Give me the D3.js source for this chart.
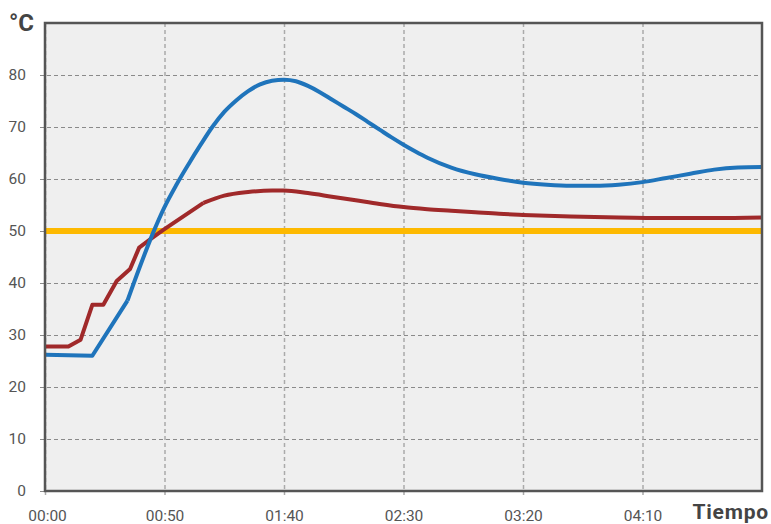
<!DOCTYPE html>
<html>
<head>
<meta charset="utf-8">
<script src="https://cdn.jsdelivr.net/npm/d3@7"></script>
<style>
  body { margin: 0; background: #fff; }
  svg { display: block; font-family: Roboto, "Noto Sans", sans-serif; }
</style>
</head>
<body>
<div id="chart"></div>
<script>
// time in minutes, temperature in °C
const blueTime = [0, 19.8, 34.5, 40, 45, 50, 55, 60, 65, 70, 75, 80, 85, 90, 95, 100, 105, 110, 115, 120, 125, 130, 135, 140, 145, 150, 155, 160, 170, 180, 190, 200, 210, 220, 230, 240, 250, 260, 270, 280, 290, 300]
const blueTemp = [26.2, 26.0, 36.6, 43.5, 49.4, 54.6, 58.9, 62.8, 66.5, 70.0, 72.9, 75.1, 76.9, 78.2, 78.9, 79.1, 78.8, 77.9, 76.7, 75.3, 73.9, 72.5, 71.0, 69.5, 68.0, 66.6, 65.3, 64.1, 62.2, 60.9, 60.0, 59.3, 58.9, 58.7, 58.7, 58.9, 59.4, 60.2, 61.0, 61.8, 62.2, 62.3]
const blueSmoothFrom = 34.5

const redTime = [0, 9.8, 14.9, 19.8, 24.4, 30, 35.6, 39.4, 44, 49.5, 66.3, 75, 85, 95, 100, 110, 120, 130, 140, 150, 160, 170, 180, 190, 200, 220, 240, 260, 280, 300]
const redTemp = [27.8, 27.8, 29.1, 35.8, 35.8, 40.4, 42.7, 46.8, 48.4, 50.2, 55.4, 56.8, 57.5, 57.8, 57.8, 57.3, 56.6, 55.9, 55.2, 54.6, 54.2, 53.9, 53.6, 53.3, 53.1, 52.8, 52.6, 52.5, 52.5, 52.6]
const redSmoothFrom = 66.3

const limitTemp = 50
const xTicks = [0, 50, 100, 150, 200, 250]
const xTickLabels = ["00:00", "00:50", "01:40", "02:30", "03:20", "04:10"]
const yTicks = [0, 10, 20, 30, 40, 50, 60, 70, 80]

const width = 771, height = 524
const margin = {top: 23, right: 9, bottom: 33, left: 45}

const svg = d3.select("#chart").append("svg")
    .attr("width", width)
    .attr("height", height)

const x = d3.scaleLinear().domain([0, 300]).range([margin.left, width - margin.right])
const y = d3.scaleLinear().domain([0, 90]).range([height - margin.bottom, margin.top])

// plot background
svg.append("rect")
    .attr("x", x(0)).attr("y", y(90))
    .attr("width", x(300) - x(0)).attr("height", y(0) - y(90))
    .attr("fill", "#efefef")

// horizontal grid + y labels
const yAxis = svg.append("g")
    .attr("transform", `translate(${margin.left},0)`)
    .call(d3.axisLeft(y).tickValues(yTicks).tickSize(-(x(300) - x(0)) - 5).tickPadding(14))
yAxis.select(".domain").remove()
yAxis.selectAll(".tick line")
    .attr("stroke", "#8a8a8a")
    .attr("stroke-dasharray", "4,3")
    .attr("transform", "translate(-5,0)")
    .attr("x2", x(300) - x(0) + 5)
    .attr("x1", 0)
yAxis.selectAll(".tick text")
    .attr("fill", "#555")
    .attr("font-size", 15.5)
    .attr("font-family", "Roboto, sans-serif")
    .attr("x", -19)

// vertical grid + x labels
const xAxis = svg.append("g")
    .attr("transform", `translate(0,${y(0)})`)
    .call(d3.axisBottom(x).tickValues(xTicks).tickFormat((d, i) => xTickLabels[i]).tickSize(4).tickPadding(15))
xAxis.select(".domain").remove()
xAxis.selectAll(".tick line")
    .attr("stroke", "#aaa")
    .attr("stroke-width", 1.5)
    .attr("stroke-dasharray", "4,3")
    .attr("y1", y(90) - y(0))
    .attr("y2", 4)
xAxis.selectAll(".tick text")
    .attr("fill", "#555")
    .attr("font-size", 15.5)
    .attr("font-family", "Roboto, sans-serif")
xAxis.selectAll(".tick").filter(d => d === 0).select("text").attr("dx", 2)

// limit line
svg.append("line")
    .attr("x1", x(0)).attr("x2", x(300))
    .attr("y1", y(limitTemp)).attr("y2", y(limitTemp))
    .attr("stroke", "#fdb900")
    .attr("stroke-width", 6)

const lineStraight = d3.line()
    .x(d => x(d[0]))
    .y(d => y(d[1]))
    .curve(d3.curveLinear)
const lineSmooth = d3.line()
    .x(d => x(d[0]))
    .y(d => y(d[1]))
    .curve(d3.curveMonotoneX)

// the early part of each series is stepwise, the rest is a smooth curve
function drawSeries(times, temps, smoothFrom, color) {
    const pts = times.map((t, i) => [t, temps[i]])
    const g = svg.append("g")
        .attr("fill", "none")
        .attr("stroke", color)
        .attr("stroke-width", 4)
        .attr("stroke-linejoin", "round")
    g.append("path").attr("d", lineStraight(pts.filter(d => d[0] <= smoothFrom)))
    g.append("path").attr("d", lineSmooth(pts.filter(d => d[0] >= smoothFrom)))
}

drawSeries(redTime, redTemp, redSmoothFrom, "#a0292a")
drawSeries(blueTime, blueTemp, blueSmoothFrom, "#1f74bb")

// frame
svg.append("rect")
    .attr("x", x(0)).attr("y", y(90))
    .attr("width", x(300) - x(0)).attr("height", y(0) - y(90))
    .attr("fill", "none")
    .attr("stroke", "#555")
    .attr("stroke-width", 2.5)

// unit labels
svg.append("text")
    .attr("x", 9).attr("y", 31)
    .attr("font-size", 24)
    .attr("font-weight", "bold")
    .attr("fill", "#444")
    .text("°C")

svg.append("text")
    .attr("x", 769).attr("y", 519)
    .attr("text-anchor", "end")
    .attr("font-size", 21)
    .attr("font-weight", "bold")
    .attr("letter-spacing", 0.8)
    .attr("fill", "#444")
    .text("Tiempo")
</script>
</body>
</html>
